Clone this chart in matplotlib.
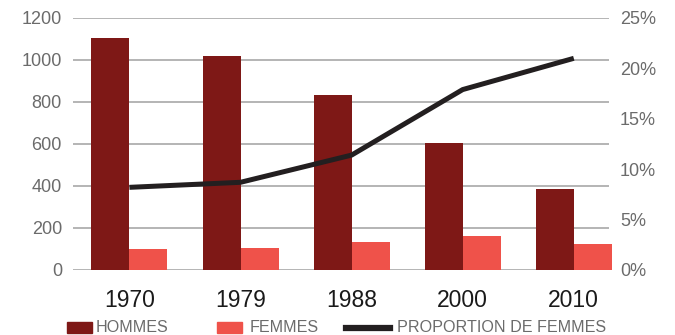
import matplotlib
matplotlib.use("Agg")
import matplotlib.pyplot as plt
from matplotlib.patches import Rectangle
from matplotlib.lines import Line2D
import numpy as np

plt.rcParams['font.family'] = ['Liberation Sans', 'DejaVu Sans']

years = ["1970", "1979", "1988", "2000", "2010"]
hommes = [1105, 1019, 833, 605, 386]
femmes = [100, 105, 133, 162, 124]
proportion = [8.2, 8.7, 11.4, 17.9, 21.0]
left_ticks = [0, 200, 400, 600, 800, 1000, 1200]
right_ticks = [0, 5, 10, 15, 20, 25]
legend_labels = ["HOMMES", "FEMMES", "PROPORTION DE FEMMES"]

c_h = "#7e1816"
c_f = "#ef524a"
c_line = "#231f20"
c_grid = "#a0a0a0"
c_txt = "#6b6b6b"

W, H = 675, 335
fig = plt.figure(figsize=(W / 100, H / 100), dpi=100)
ax = fig.add_axes([73 / W, 1 - 270 / H, (609 - 73) / W, (270 - 18) / H])

x = np.arange(len(years))
bw = 0.342
ax.bar(x - bw / 2, hommes, bw, color=c_h, zorder=2, clip_on=False)
ax.bar(x + bw / 2, femmes, bw, color=c_f, zorder=2, clip_on=False)
ax.set_xlim(-0.508, 4.317)
ax.set_ylim(0, 1200)
ax.set_yticks(left_ticks)
ax.set_yticklabels([str(v) for v in left_ticks], fontsize=13, color=c_txt)
ax.yaxis.grid(True, color=c_grid, linewidth=1.1, zorder=0)
ax.set_axisbelow(True)
ax.tick_params(axis='y', length=0, pad=8)
ax.set_xticks(x)
ax.set_xticklabels(years, fontsize=16.5, color="#1a1a1a")
ax.tick_params(axis='x', length=0, pad=14)
for s in ax.spines.values():
    s.set_visible(False)

ax2 = ax.twinx()
ax2.plot(x, proportion, color=c_line, linewidth=3.6, zorder=3, solid_capstyle='butt')
ax2.set_ylim(0, 25)
ax2.set_yticks(right_ticks)
ax2.set_yticklabels([f"{v}%" for v in right_ticks], fontsize=13, color=c_txt)
ax2.tick_params(axis='y', length=0, pad=8)
for s in ax2.spines.values():
    s.set_visible(False)

# legend
ly = 1 - 327.5 / H
ph = 11 / H
fs = 11.6
fig.add_artist(Rectangle((67 / W, ly - ph / 2), 25 / W, ph, transform=fig.transFigure, color=c_h))
fig.text(96 / W, ly, legend_labels[0], fontsize=fs, color=c_txt, va='center', ha='left')
fig.add_artist(Rectangle((217 / W, ly - ph / 2), 25 / W, ph, transform=fig.transFigure, color=c_f))
fig.text(250 / W, ly, legend_labels[1], fontsize=fs, color=c_txt, va='center', ha='left')
fig.add_artist(Line2D([346 / W, 390 / W], [ly, ly], transform=fig.transFigure, color=c_line, linewidth=4.5))
fig.text(397 / W, ly, legend_labels[2], fontsize=fs, color=c_txt, va='center', ha='left')

fig.savefig("out.png", dpi=100)
